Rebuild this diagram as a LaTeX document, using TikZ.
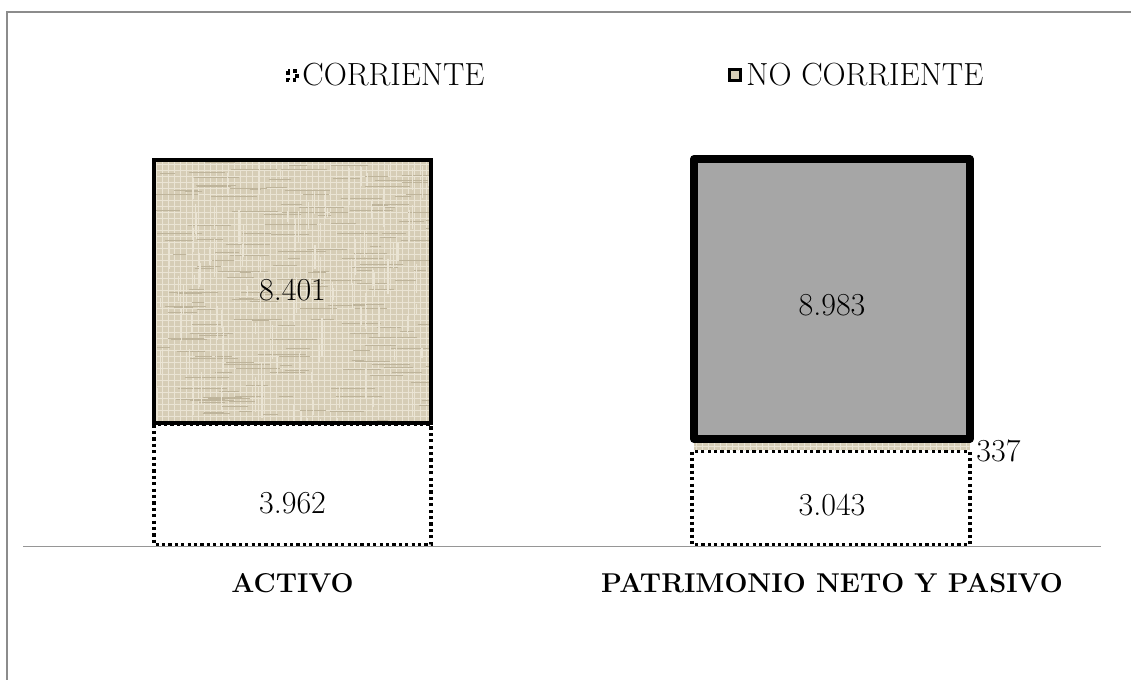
\documentclass[tikz,border=0pt]{standalone}
\usetikzlibrary{patterns}
\definecolor{tanfill}{RGB}{214,205,182}
\definecolor{tanline}{RGB}{234,228,212}
\definecolor{tandark}{RGB}{190,180,155}
\definecolor{grayfill}{RGB}{166,166,166}
\definecolor{framegray}{RGB}{140,140,140}
\definecolor{axisgray}{RGB}{150,150,150}
\tikzset{
  txt/.style={font=\fontsize{16}{18}\selectfont, inner sep=0pt},
  cat/.style={font=\fontsize{13.6}{15}\selectfont\bfseries, inner sep=0pt},
  ncbox/.style={draw=black, line width=1.6pt, fill=tanfill},
  texture/.style={pattern=grid, pattern color=tanline},
  cbox/.style={draw=black, line width=1.8pt, dash pattern=on 1.6pt off 1.6pt, line cap=butt},
  pnbox/.style={draw=black, line width=4pt, fill=grayfill, line join=round},
}
\begin{document}
\begin{tikzpicture}[x=0.5pt,y=-0.5pt]
\useasboundingbox (0,0) rectangle (1131,680);
\fill[white] (0,0) rectangle (1131,680);
\pgfmathsetseed{7}
% outer frame
\draw[framegray, line width=0.9pt] (7,680) -- (7,12) -- (1131,12);
% legend
\draw[draw=black, line width=1.8pt, dash pattern=on 1.8pt off 1.6pt, line cap=butt] (288,71) rectangle (297,80);
\node[txt, anchor=west] (lc) at (302,75) {CORRIENTE};
\draw[draw=black, line width=1.5pt, fill=tanfill] (729,69.5) rectangle (740,80.5);
\node[txt, anchor=west] (lnc) at (746,75) {NO CORRIENTE};
% ACTIVO bar
\draw[ncbox] (154,160) rectangle (431,423);
\fill[texture] (155.5,161.5) rectangle (429.5,421.5);
\begin{scope}
  \clip (155.5,161.5) rectangle (429.5,421.5);
  \foreach \i in {1,...,180}{
    \pgfmathsetmacro{\xx}{155+275*rnd}
    \pgfmathsetmacro{\yy}{161+260*rnd}
    \pgfmathsetmacro{\ll}{10+40*rnd}
    \draw[tandark, line width=0.5pt] (\xx,\yy) -- ++(\ll,0);
  }
  \foreach \i in {1,...,120}{
    \pgfmathsetmacro{\xx}{155+275*rnd}
    \pgfmathsetmacro{\yy}{161+260*rnd}
    \pgfmathsetmacro{\ll}{8+30*rnd}
    \draw[tanline, line width=0.6pt] (\xx,\yy) -- ++(0,\ll);
  }
\end{scope}
\draw[draw=black, line width=1.6pt] (154,160) rectangle (431,423);
\draw[cbox] (154,424.5) rectangle (431,544.5);
\node[txt] (a1) at (292.5,290) {8.401};
\node[txt] (a2) at (292.5,503) {3.962};
% PN y Pasivo bar
\fill[tanfill] (694,441) rectangle (969.5,450);
\fill[texture] (694,441) rectangle (969.5,450);
\draw[pnbox] (694,159) rectangle (969.5,439);
\draw[cbox] (692,451.5) rectangle (970,544.5);
\node[txt] (p1) at (832,305) {8.983};
\node[txt] (p2) at (832,505) {3.043};
\node[txt, anchor=west] (p3) at (976,451) {337};
% axis
\draw[axisgray, line width=0.9pt] (23,546.5) -- (1101,546.5);
% category labels
\node[cat] (ca) at (292.5,583) {ACTIVO};
\node[cat] (cp) at (832,583) {PATRIMONIO NETO Y PASIVO};
\end{tikzpicture}
\end{document}
